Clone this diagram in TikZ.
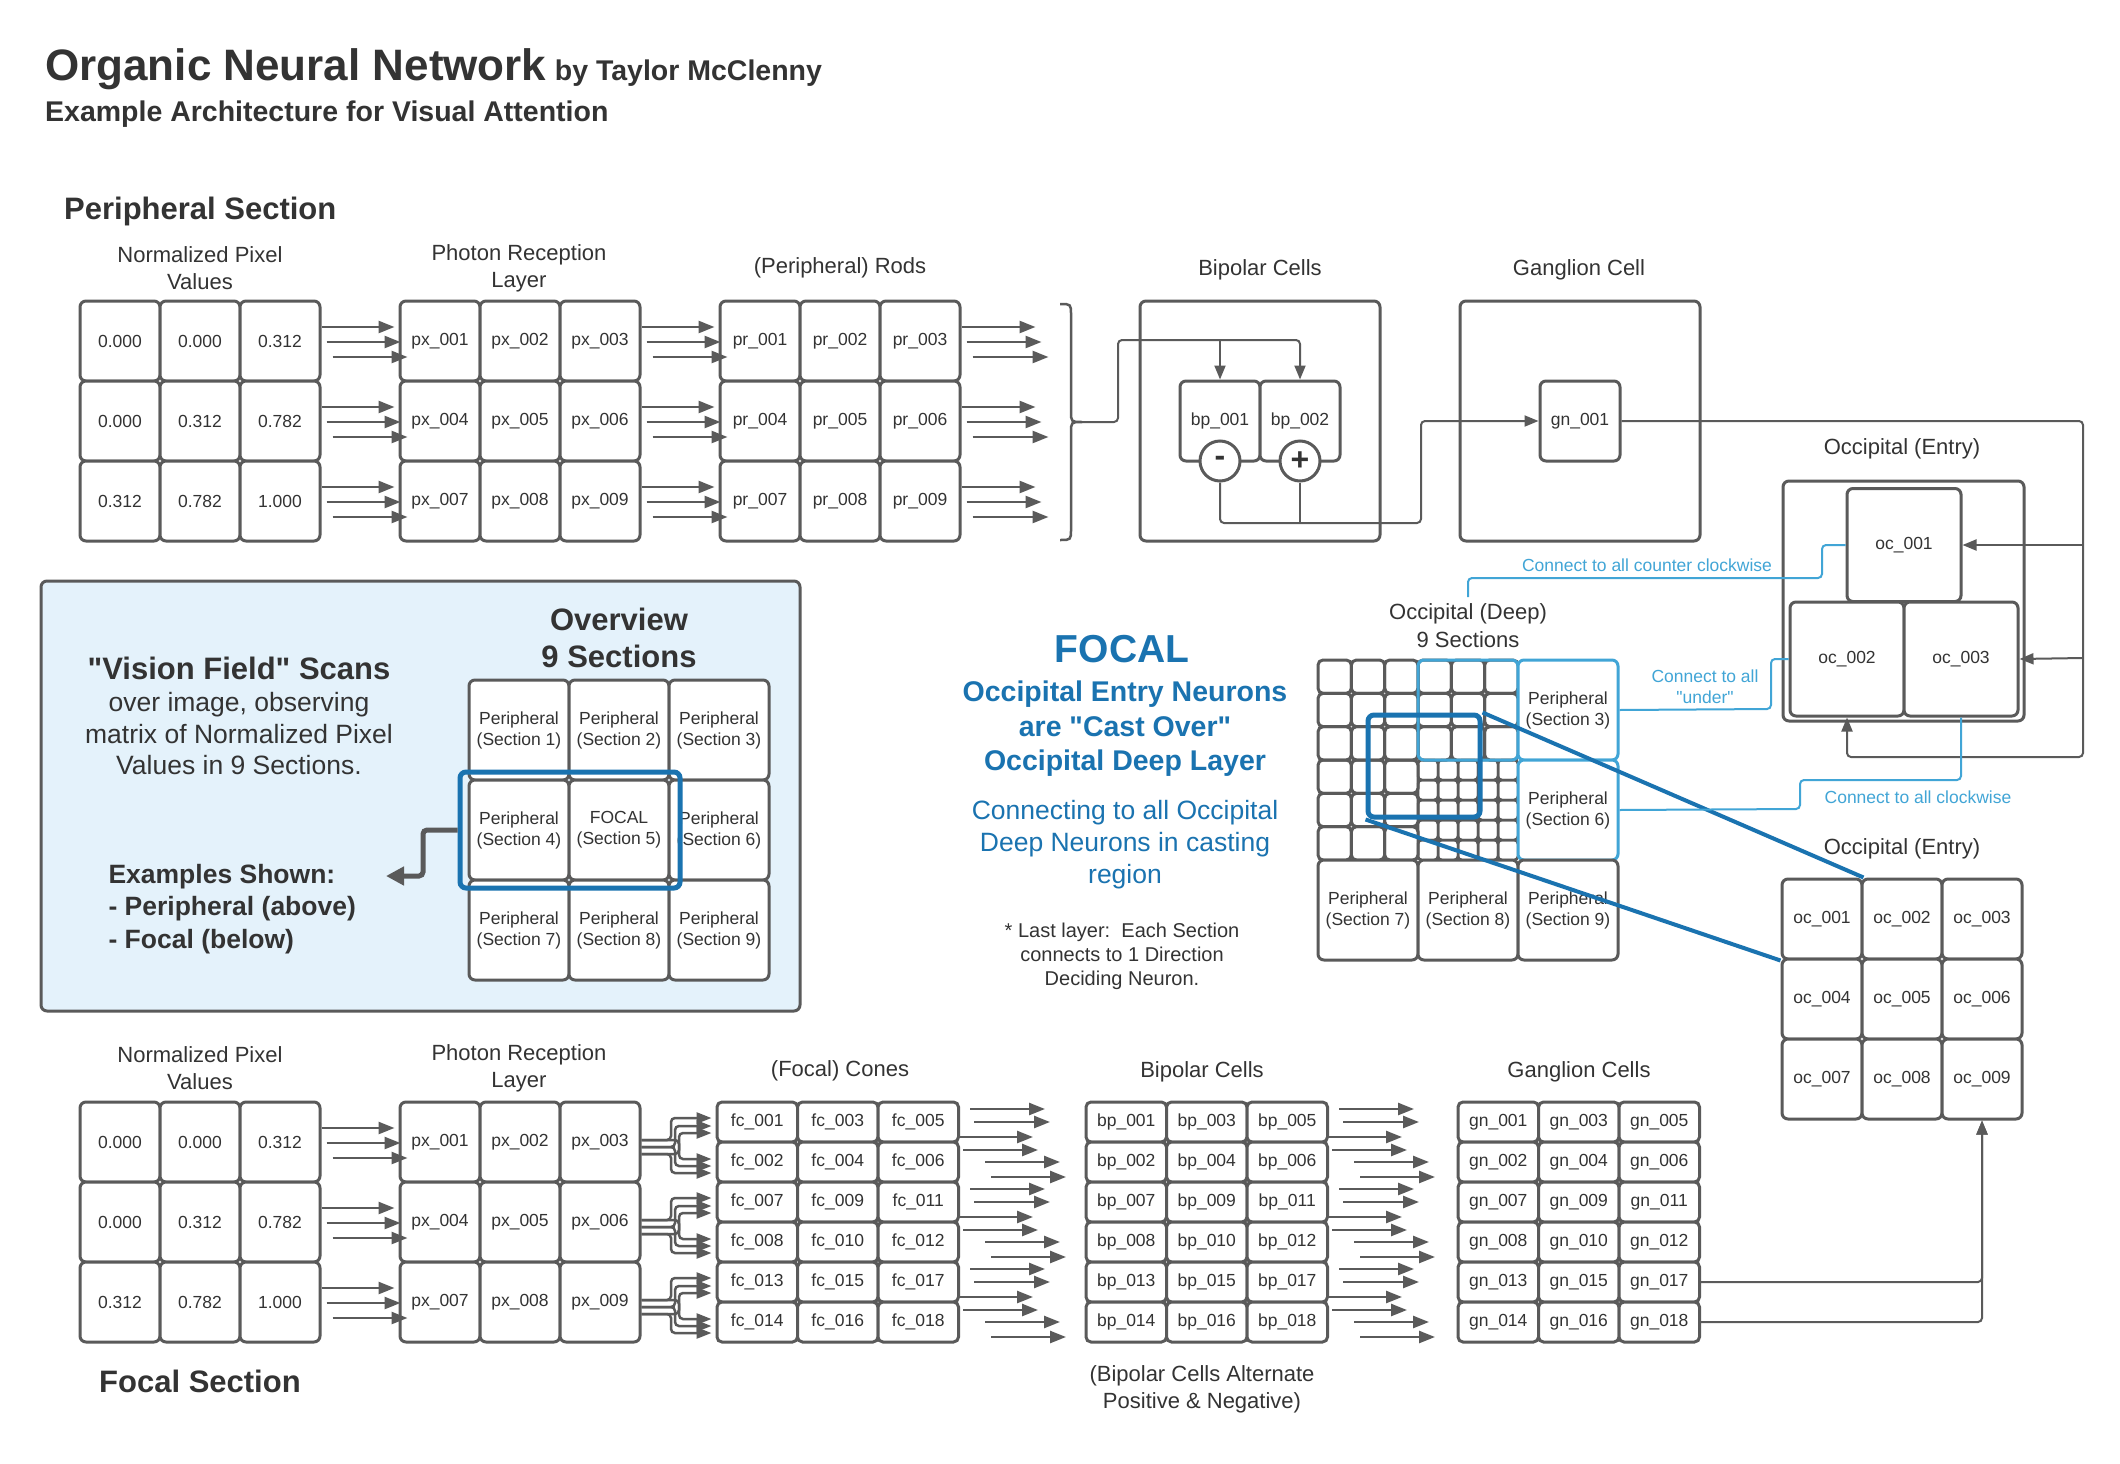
\documentclass[tikz,border=0pt]{standalone}
\usepackage{fontspec}
\setmainfont{Liberation Sans}
\newfontfamily\qfont{Liberation Sans}
\usetikzlibrary{arrows.meta,calc}
\definecolor{lg}{HTML}{5A5A5A}
\definecolor{tc}{HTML}{333333}
\definecolor{dblue}{HTML}{1A73B0}
\definecolor{lblue}{HTML}{41A5D6}
\definecolor{vfill}{HTML}{E4F2FB}
\newcommand\FS[2]{\fontsize{#1}{#2}\selectfont}
\begin{document}
\begin{tikzpicture}[x=1pt,y=-1pt,
  every node/.style={text=tc},
  cellbox/.style={draw=lg, line width=3pt, rounded corners=6pt, fill=white, inner sep=0pt,
    minimum width=80pt, minimum height=80pt, font=\FS{17.5}{21}, align=center},
  smallcell/.style={cellbox, minimum width=80.5pt, minimum height=40pt, rounded corners=5pt},
  deepcell/.style={draw=lg, line width=3pt, rounded corners=5pt, minimum size=33.33pt, inner sep=0pt},
  deepcellv/.style={draw=lg, line width=2.5pt, rounded corners=4pt, minimum size=20pt, inner sep=0pt},
  bigarrow/.style={draw=lg, line width=2.5pt, -{Triangle[length=16pt,width=12pt]}},
  farrow/.style={draw=lg, line width=2.5pt, rounded corners=4pt, -{Triangle[length=15pt,width=11pt]}},
  conn/.style={draw=lg, line width=2pt, rounded corners=4pt, -{Triangle[length=14pt,width=11pt]}},
  plainline/.style={draw=lg, line width=2pt, rounded corners=4pt},
  bconn/.style={draw=lblue, line width=2pt, rounded corners=4pt},
  lab/.style={font=\FS{22}{27}, align=center},
  blab/.style={font=\qfont\FS{17.5}{21}, text=lblue, align=center}
]
\useasboundingbox (0,0) rectangle (2120,1464);
\fill[white] (0,0) rectangle (2120,1464);

% ---------- titles ----------
\node[anchor=base west, inner sep=0pt, font=\bfseries\FS{44}{50}] (title) at (45,81) {Organic Neural Network};
\node[anchor=base west, inner sep=0pt, font=\bfseries\FS{28.5}{32}] (author) at ($(title.base east)+(8,0)$) {by Taylor McClenny};
\node[anchor=base west, inner sep=0pt, font=\bfseries\FS{28.5}{32}] (subtitle) at (45,121) {Example Architecture for Visual Attention};
\node[anchor=west, inner sep=0pt, font=\bfseries\FS{31}{36}] (persec) at (64,211) {Peripheral Section};
\node[anchor=west, inner sep=0pt, font=\bfseries\FS{31}{36}] (focsec) at (99,1381) {Focal Section};

% ---------- layer labels ----------
\node[lab] (lnorm) at (200,268) {Normalized Pixel\\Values};
\node[lab] (lphot) at (519,268) {Photon Reception\\Layer};
\node[lab] (lrods) at (840,268) {(Peripheral) Rods};
\node[lab] (lbip) at (1260,270) {Bipolar Cells};
\node[lab] (lgan) at (1579,270) {Ganglion Cell};
\node[lab] (locE) at (1902,449) {Occipital (Entry)};
\node[lab, font=\FS{22}{28}] (locD) at (1468,626) {Occipital (Deep)\\9 Sections};
\node[lab] (locE2) at (1902,849) {Occipital (Entry)};
\node[lab] (lnorm2) at (200,1068) {Normalized Pixel\\Values};
\node[lab] (lphot2) at (519,1068) {Photon Reception\\Layer};
\node[lab] (lcones) at (840,1071) {(Focal) Cones};
\node[lab] (lbip2) at (1202,1072) {Bipolar Cells};
\node[lab] (lgan2) at (1579,1072) {Ganglion Cells};
\node[lab] (lalt) at (1202,1389) {(Bipolar Cells Alternate\\Positive \& Negative)};

% ---------- 3x3 grids ----------
\foreach \v [count=\i from 0] in {0.000,0.000,0.312,0.000,0.312,0.782,0.312,0.782,1.000} {
  \pgfmathtruncatemacro\ri{floor(\i/3)}
  \pgfmathtruncatemacro\ci{mod(\i,3)}
  \pgfmathtruncatemacro\nn{\i+1}
  \node[cellbox] (pn\i) at (120+80*\ci,341+80*\ri) {\v};
  \node[cellbox] (fn\i) at (120+80*\ci,1142+80*\ri) {\v};
  \node[cellbox] (px\i) at (440+80*\ci,341+80*\ri) {px\_00\nn};
  \node[cellbox] (fx\i) at (440+80*\ci,1142+80*\ri) {px\_00\nn};
  \node[cellbox] (pr\i) at (760+80*\ci,341+80*\ri) {pr\_00\nn};
}

\foreach \ri in {0,1,2} {
  \pgfmathtruncatemacro\na{3*\ri+2}
  \pgfmathtruncatemacro\nb{3*\ri}
  \foreach \dy/\sx/\ex in {-14/0/-4, 1/5/2, 16/11/9} {
    \draw[bigarrow] ($(pn\na.east)+(\sx,\dy)$) -- ($(px\nb.west)+(\ex,\dy)$);
    \draw[bigarrow] ($(px\na.east)+(\sx,\dy)$) -- ($(pr\nb.west)+(\ex,\dy)$);
    \draw[bigarrow] ($(fn\na.east)+(\sx,\dy)$) -- ($(fx\nb.west)+(\ex,\dy)$);
    \draw[bigarrow] ($(pr\na.east)+(\sx,\dy)$) -- ($(pr\na.east)+({78+\ex},\dy)$);
  }
}

% ---------- brace ----------
\draw[lg, line width=2.5pt] (1060,304) .. controls (1071,304) .. (1071,315) -- (1071,411)
  .. controls (1071,422) .. (1082,422) .. controls (1071,422) .. (1071,433) -- (1071,529)
  .. controls (1071,540) .. (1060,540);
\coordinate (brtip) at (1082,422);
\coordinate (bus) at (1118,340);
\coordinate (lowbus) at (1421,523);

% ---------- bipolar / ganglion (peripheral) ----------
\node[cellbox, minimum width=240pt, minimum height=240pt, fill=none] (bipbox) at (1260,421) {};
\node[cellbox, minimum width=240pt, minimum height=240pt, fill=none] (ganbox) at (1580,421) {};
\node[cellbox] (bp1) at (1220,421) {bp\_001};
\node[cellbox] (bp2) at (1300,421) {bp\_002};
\node[circle, draw=lg, line width=3pt, fill=white, minimum size=40pt, inner sep=0pt,
  font=\bfseries\FS{32}{32}] (bneg) at (1220,461) {-};
\node[circle, draw=lg, line width=3pt, fill=white, minimum size=40pt, inner sep=0pt,
  font=\bfseries\FS{32}{32}] (bpos) at (1300,461) {+};
\node[cellbox] (gn1) at (1580,421) {gn\_001};

\draw[conn] (brtip) -- (1118,422) -- (bus) -- (bp2.north |- bus) -- (bp2.north);
\draw[conn] (bp1.north |- bus) -- (bp1.north);
\draw[conn] (bneg.south) -- (bneg.south |- lowbus) -- (lowbus) -- (1421,421) -- (gn1.west);
\draw[plainline] (bpos.south) -- (bpos.south |- lowbus);

% ---------- occipital entry (top) ----------
\node[cellbox, minimum width=241pt, minimum height=240pt, fill=none] (ocbox) at (1903.5,601) {};
\node[cellbox, minimum width=114pt, minimum height=113pt] (oct1) at (1904,545) {oc\_001};
\node[cellbox, minimum width=114pt, minimum height=114pt] (oct2) at (1847,659) {oc\_002};
\node[cellbox, minimum width=114pt, minimum height=114pt] (oct3) at (1961,659) {oc\_003};

\coordinate (rc1) at (2083,545);
\coordinate (rc2) at (2083,658);
\draw[conn] (gn1.east) -- (2083,421) -- (2083,757) -- (oct2.south |- 0,757) -- (oct2.south);
\draw[conn] (rc1) -- (oct1.east);
\draw[conn] (rc2) -- (oct3.east);

% ---------- occipital deep grid ----------
\foreach \sx/\sy in {0/0,1/0,0/1} {
  \foreach \i in {0,1,2} { \foreach \j in {0,1,2} {
    \node[deepcell] (dc\sx\sy\i\j) at ({1318+100*\sx+33.333*\i+16.667},{660+100*\sy+33.333*\j+16.667}) {};
  }}
}
\foreach \i in {0,...,4} { \foreach \j in {0,...,4} {
  \node[deepcellv] (dv\i\j) at ({1428+20*\i},{770+20*\j}) {};
}}
\node[draw=lblue, line width=3pt, rounded corners=6pt, minimum size=100pt, inner sep=0pt] (sec2) at (1468,710) {};
\node[cellbox, draw=lblue, minimum size=100pt] (sec3) at (1568,710) {Peripheral\\(Section 3)};
\node[cellbox, draw=lblue, minimum size=100pt] (sec6) at (1568,810) {Peripheral\\(Section 6)};
\node[cellbox, minimum size=100pt] (sec7) at (1368,910) {Peripheral\\(Section 7)};
\node[cellbox, minimum size=100pt] (sec8) at (1468,910) {Peripheral\\(Section 8)};
\node[cellbox, minimum size=100pt] (sec9) at (1568,910) {Peripheral\\(Section 9)};

% ---------- occipital entry (bottom) ----------
\foreach \i in {0,...,8} {
  \pgfmathtruncatemacro\ri{floor(\i/3)}
  \pgfmathtruncatemacro\ci{mod(\i,3)}
  \pgfmathtruncatemacro\nn{\i+1}
  \node[cellbox] (ocb\nn) at (1822+80*\ci,919+80*\ri) {oc\_00\nn};
}

% focal cast
\node[draw=dblue, line width=5pt, rounded corners=6pt, minimum width=112pt, minimum height=102pt, inner sep=0pt] (fsq) at (1424,766) {};
\draw[dblue, line width=4pt] (fsq.north east) -- (ocb1.north east);
\draw[dblue, line width=4pt] (fsq.south west) -- (ocb1.south west);

% blue connectors
\coordinate (ccwend) at (1468,597);
\draw[bconn] (oct1.west) -- (1822,545) -- (1822,578) -- (1468,578) -- (ccwend);
\node[blab] (tccw) at (1647,565) {Connect to all counter clockwise};
\draw[bconn] (sec3.east) -- (1771,709) -- (1771,659) -- (oct2.west);
\node[blab] (tund) at (1705,687) {Connect to all\\"under"};
\draw[bconn] (sec6.east) -- (1800,809) -- (1800,780) -- (oct3.south |- 0,780) -- (oct3.south);
\node[blab] (tcw) at (1918,797) {Connect to all clockwise};

% ---------- vision field box ----------
\node[draw=lg, fill=vfill, line width=3pt, rounded corners=6pt, minimum width=759pt, minimum height=430pt, inner sep=0pt] (vbox) at (420.5,796) {};
\foreach \t [count=\i from 0] in {Peripheral\\(Section 1),Peripheral\\(Section 2),Peripheral\\(Section 3),Peripheral\\(Section 4),FOCAL\\(Section 5),Peripheral\\(Section 6),Peripheral\\(Section 7),Peripheral\\(Section 8),Peripheral\\(Section 9)} {
  \pgfmathtruncatemacro\ri{floor(\i/3)}
  \pgfmathtruncatemacro\ci{mod(\i,3)}
  \node[cellbox, minimum size=100pt] (ov\i) at (519+100*\ci,730+100*\ri) {\t};
}
\node[draw=dblue, line width=5pt, rounded corners=6pt, minimum width=220pt, minimum height=116pt, inner sep=0pt] (ovf) at (570,830) {};
\coordinate (exend) at (386,876);
\draw[lg, line width=5pt, rounded corners=4pt, -{Triangle[length=18pt,width=18pt]}] (ovf.west) -- (423,830) -- (423,876) -- (exend);
\node[font=\bfseries\FS{31}{37}, align=center] (ovlab) at (619,638) {Overview\\9 Sections};
\node[font=\qfont\bfseries\FS{31}{36}] (vf1) at (239,668) {"Vision Field" Scans};
\node[font=\FS{26.5}{31.5}, align=center] (vf2) at (239,734) {over image, observing\\matrix of Normalized Pixel\\Values in 9 Sections.};
\node[font=\bfseries\FS{26.5}{32.5}, align=left, anchor=west] (vf3) at (105,909) {Examples Shown:\\- Peripheral (above)\\- Focal (below)};

% ---------- FOCAL text ----------
\node[font=\bfseries\FS{39}{44}, text=dblue] (ftitle) at (1122,649) {FOCAL};
\node[font=\qfont\bfseries\FS{28.5}{34.5}, text=dblue, align=center] (ft2) at (1125,729) {Occipital Entry Neurons\\are "Cast Over"\\Occipital Deep Layer};
\node[font=\FS{26.5}{32}, text=dblue, align=center] (ft3) at (1125,845) {Connecting to all Occipital\\Deep Neurons in casting\\region};
\node[font=\FS{20}{24}, align=center] (ft4) at (1122,956) {* Last layer:\ \ Each Section\\connects to 1 Direction\\Deciding Neuron.};

% ---------- focal cones / bipolar / ganglion ----------
\foreach \ri in {0,...,5} { \foreach \ci in {0,1,2} {
  \pgfmathtruncatemacro\nn{6*floor(\ri/2)+2*\ci+mod(\ri,2)+1}
  \node[smallcell] (fc\ri\ci) at (757.25+80.5*\ci,1122+40*\ri) {fc\_0\ifnum\nn<10 0\fi\nn};
  \node[smallcell] (bc\ri\ci) at (1126.25+80.5*\ci,1122+40*\ri) {bp\_0\ifnum\nn<10 0\fi\nn};
  \node[smallcell] (gc\ri\ci) at (1498.25+80.5*\ci,1122+40*\ri) {gn\_0\ifnum\nn<10 0\fi\nn};
}}

% photon -> cones (forked)
\foreach \ri in {0,1,2} {
  \pgfmathtruncatemacro\na{3*\ri+2}
  \pgfmathtruncatemacro\nu{2*\ri}
  \pgfmathtruncatemacro\nl{2*\ri+1}
  \foreach \k/\sd/\ud/\ld in {0/-2/-4/-3, 1/5/4/4, 2/12/11/11} {
    \pgfmathsetmacro\xu{671+4*\k}
    \pgfmathsetmacro\xl{671+4*(2-\k)}
    \pgfmathsetmacro\ys{1142+80*\ri+\sd}
    \pgfmathsetmacro\yu{1122+80*\ri+\ud}
    \pgfmathsetmacro\yl{1162+80*\ri+\ld}
    \draw[farrow] ($(fx\na.east)+(0,\sd)$) -- (\xu,\ys) -- (\xu,\yu) -- ($(fc\nu0.west)+(-4,\ud)$);
    \draw[farrow] ($(fx\na.east)+(0,\sd)$) -- (\xl,\ys) -- (\xl,\yl) -- ($(fc\nl0.west)+(-4,\ld)$);
  }
}

% cones -> bipolar, bipolar -> ganglion
\foreach \p in {0,1,2} {
  \pgfmathtruncatemacro\tr{2*\p}
  \foreach \dy/\sx/\ex in {-13/10/85, 0/14/90, 15/0/73, 28/3/78, 40/25/100, 55/31/106} {
    \draw[bigarrow] ($(fc\tr2.east)+(\sx,\dy)$) -- ($(fc\tr2.east)+(\ex,\dy)$);
    \draw[bigarrow] ($(bc\tr2.east)+(\sx,\dy)$) -- ($(bc\tr2.east)+(\ex,\dy)$);
  }
}

% ganglion -> occipital entry
\draw[conn] (gc42.east) -- (ocb9.south |- gc42.east) -- (ocb9.south);
\draw[conn] (gc52.east) -- (ocb9.south |- gc52.east) -- (ocb9.south);

\end{tikzpicture}
\end{document}
